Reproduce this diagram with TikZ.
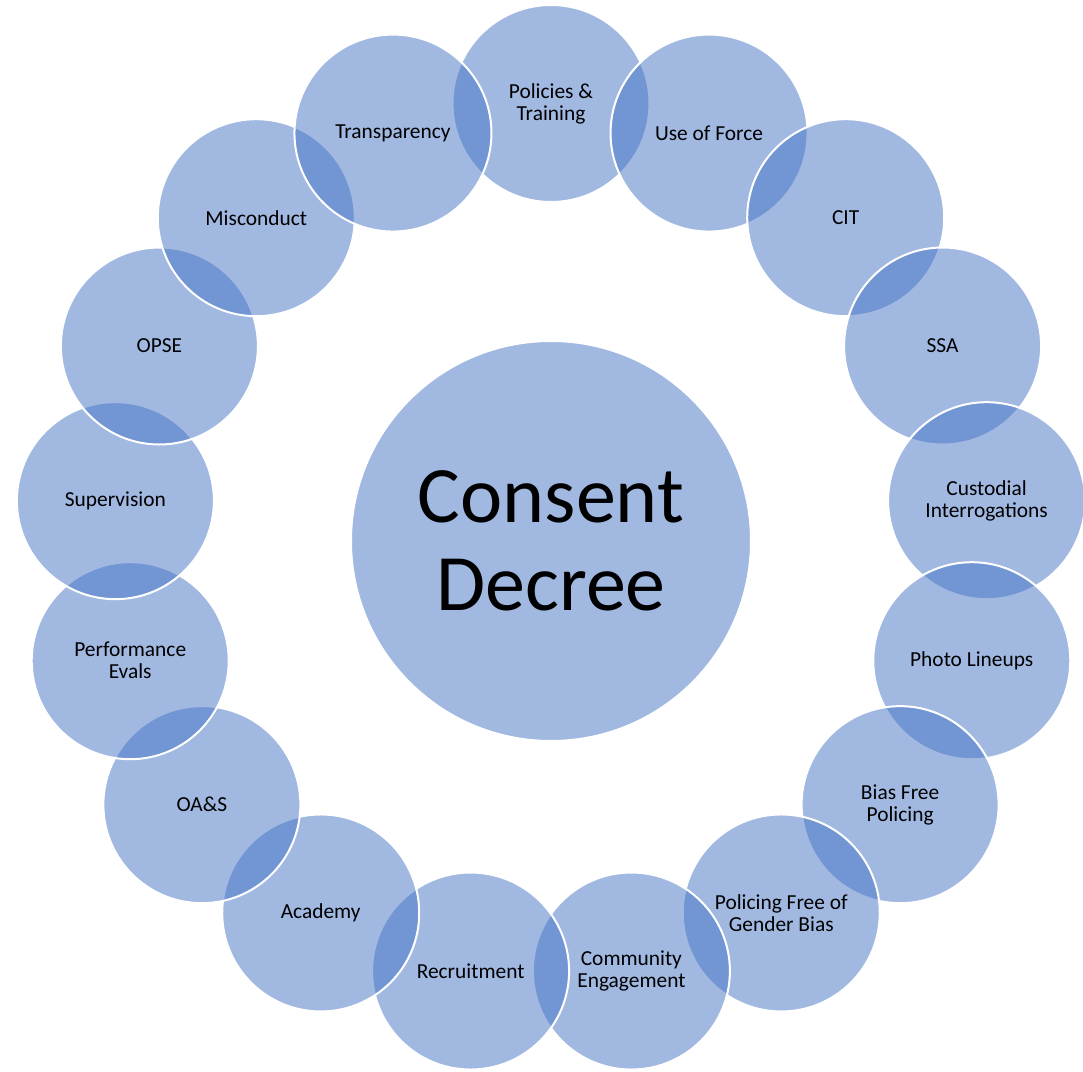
\documentclass[tikz,border=0pt]{standalone}
\usepackage{fontspec}
\setmainfont{Carlito}
\usepackage{xcolor}
\usepackage{tikz}

\definecolor{decreeblue}{HTML}{4472C4}

\tikzset{
  petal/.style={circle, draw=white, line width=1pt, fill=decreeblue, fill opacity=0.5,
    text opacity=1, minimum size=98.5pt, inner sep=0pt, align=center,
    font=\fontsize{10.7}{11}\selectfont},
  hub/.style={circle, draw=white, line width=1pt, fill=decreeblue, fill opacity=0.5,
    text opacity=1, minimum size=200pt, inner sep=0pt, align=center,
    font=\fontsize{40}{44}\selectfont}
}

\begin{document}
\begin{tikzpicture}[x=0.5pt, y=0.5pt]
    \useasboundingbox (-551, -531) rectangle (532, 541);

    \node[hub] at (0, 0) (decree) {Consent\\Decree};

    \node[petal] at (90:437.5) (policies) {Policies \&\\Training};
    \node[petal] at (68.82:437.5) (force) {Use of Force};
    \node[petal] at (47.65:437.5) (cit) {CIT};
    \node[petal] at (26.47:437.5) (ssa) {SSA};
    \node[petal] at (5.29:437.5) (custodial) {Custodial\\Interrogations};
    \node[petal] at (-15.88:437.5) (lineups) {Photo Lineups};
    \node[petal] at (-37.06:437.5) (biasfree) {Bias Free\\Policing};
    \node[petal] at (-58.24:437.5) (gender) {Policing Free of\\Gender Bias};
    \node[petal] at (-79.41:437.5) (community) {Community\\Engagement};
    \node[petal] at (-100.59:437.5) (recruit) {Recruitment};
    \node[petal] at (-121.76:437.5) (academy) {Academy};
    \node[petal] at (-142.94:437.5) (oas) {OA\&S};
    \node[petal] at (-164.12:437.5) (evals) {Performance\\Evals};
    \node[petal] at (174.71:437.5) (supervision) {Supervision};
    \node[petal] at (153.53:437.5) (opse) {OPSE};
    \node[petal] at (132.35:437.5) (misconduct) {Misconduct};
    \node[petal] at (111.18:437.5) (transparency) {Transparency};
  \end{tikzpicture}
\end{document}
